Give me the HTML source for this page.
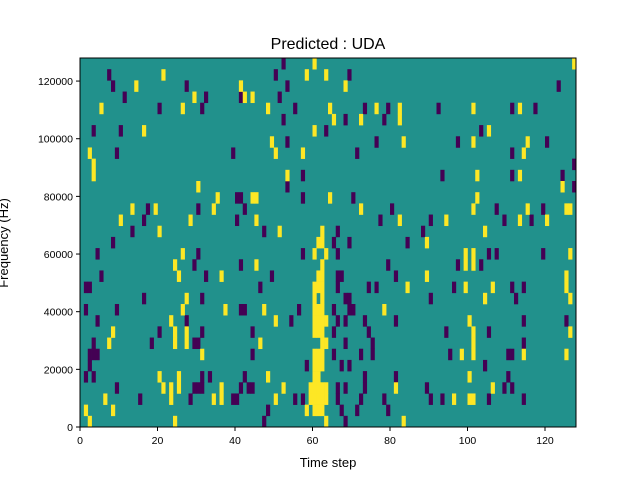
<!DOCTYPE html>
<html><head><meta charset="utf-8"><style>
html,body{margin:0;padding:0;background:#fff;}
svg{display:block;font-family:"Liberation Sans","DejaVu Sans",sans-serif;}
</style></head><body>
<svg id="chart" width="640" height="480" viewBox="0 0 640 480">
<text x="328" y="49" font-size="16" text-anchor="middle">Predicted : UDA</text>
<g id="cells"></g>
<g id="axes"></g>
<text x="328" y="467" font-size="13" text-anchor="middle">Time step</text>
<text transform="translate(8,243) rotate(-90)" font-size="13" text-anchor="middle">Frequency (Hz)</text>
</svg>
<script>
const nTime = 128;
const nBins = 33;
const fMax = 128000;
const xTicks = [0,20,40,60,80,100,120];
const yTicks = [0,20000,40000,60000,80000,100000,120000];
const yTickLabels = ["0","20000","40000","60000","80000","100000","120000"];
const purpleCells = [
[7,31],[8,30],[27,30],[11,29],[20,28],[31,28],[3,26],[10,26],[9,24],[17,19],[30,19],[16,18],[13,17],[8,16],
[4,15],[30,15],[29,14],[5,13],[1,12],[2,12],[16,11],[31,11],[1,10],[9,10],[4,9],[27,9],[20,8],[31,8],[3,7],[18,7],[29,7],[30,7],[2,6],[3,6],[4,6],[2,5],[1,4],[3,4],[31,4],[9,3],[29,3],[30,3],[31,3],[15,2],[28,2],
[52,32],[50,31],[53,30],[32,29],[41,29],[51,29],[55,28],[52,27],[63,26],[53,25],[39,24],[57,22],[53,21],[40,20],[41,20],[57,20],[42,19],[40,18],[47,17],
[57,15],[41,14],[32,13],[49,13],[46,12],[41,10],[42,10],[56,10],[54,9],[44,8],[44,6],[58,5],[33,4],[42,4],[41,3],[43,3],[44,3],[39,2],[40,2],[55,2],[57,2],[48,1],[47,0],
[69,31],[73,28],[79,28],[92,28],[68,27],[78,27],[76,25],[71,24],[93,22],[70,20],[80,19],[77,18],[90,18],[66,17],[88,17],[65,16],[69,16],[84,16],
[66,15],[79,14],[66,13],[67,13],[81,13],[66,12],[74,12],[76,12],[68,11],[69,11],[90,11],[65,10],[69,10],[70,10],[66,9],[68,9],[73,9],[81,9],[65,8],[74,8],[94,8],[68,7],[75,7],[75,6],[65,6],[72,6],[95,6],[67,5],[69,5],[73,4],[73,3],[81,4],[66,3],[66,2],[68,3],[89,3],[72,2],[78,2],[90,2],[93,2],[67,1],[71,1],[79,1],[68,0],
[123,30],[111,28],[117,28],[103,26],[97,25],[120,25],[111,24],[127,23],[111,22],[124,22],[127,21],[107,19],[119,19],[109,18],[116,18],
[105,15],[107,15],[119,15],[97,14],[103,14],[96,12],[111,12],[114,12],[112,11],[114,9],[125,9],[105,8],[114,7],[110,6],[111,6],[104,5],[110,4],[109,3],[111,3],[105,2],[114,2]
];
const yellowCells = [
[21,31],[14,30],[29,29],[5,28],[26,28],[16,26],[2,24],[3,23],[3,22],[30,21],[13,19],[19,19],[10,18],[28,18],[20,17],
[26,15],[24,14],[25,13],[27,11],[26,10],[23,9],[8,8],[24,8],[24,7],[27,8],[27,7],[7,7],[31,6],[20,4],[25,4],[25,3],[21,3],[23,3],[23,2],[6,2],[1,1],[8,1],[2,0],[24,0],
[60,32],[58,31],[63,31],[41,30],[42,29],[44,29],[48,28],[60,26],[49,25],[50,24],[57,24],[53,22],[35,20],[44,20],[45,20],[34,19],[45,18],[51,17],[62,17],[61,16],[62,16],
[60,15],[63,15],[45,14],[62,14],[36,13],[61,13],[62,13],[60,12],[61,12],[62,12],[60,11],[62,11],[37,10],[47,10],[60,10],[61,10],[62,10],[50,9],[60,9],[61,9],[62,9],[63,9],[60,8],[61,8],[62,8],[46,7],[62,7],[63,7],[60,6],[61,6],[62,6],[60,5],[61,5],[62,5],[48,4],[60,4],[61,4],[36,3],[36,2],[52,3],[59,3],[60,3],[61,3],[62,3],[63,3],[34,2],[50,2],[59,2],[60,2],[61,2],[62,2],[63,2],[58,1],[60,1],[61,1],[62,1],[63,0],
[68,30],[64,28],[76,28],[82,28],[82,27],[65,27],[72,27],[83,25],[64,20],[72,19],[82,18],[94,18],[89,16],
[89,13],[84,12],[78,10],[81,3],[83,0],
[127,32],[101,28],[113,28],[105,26],[101,25],[115,25],[114,24],[102,22],[113,22],[124,21],[102,20],[101,19],[115,19],[125,19],[126,19],[113,18],[120,18],[104,17],
[99,15],[99,14],[101,15],[101,14],[126,15],[125,13],[125,12],[99,12],[106,12],[104,11],[126,11],[100,9],[101,8],[101,7],[101,6],[126,8],[98,6],[114,6],[125,6],[100,4],[106,3],[96,2],[100,2],[101,2]
];
const X0=80, X1=576, Y0=427, Y1=58;
const NS="http://www.w3.org/2000/svg";
function xs(t){return X0+(t/nTime)*(X1-X0);}
function ys(f){return Y0-(f/fMax)*(Y0-Y1);}
const binH = fMax/nBins;
function mk(tag,attrs,parent){const e=document.createElementNS(NS,tag);for(const k in attrs)e.setAttribute(k,attrs[k]);parent.appendChild(e);return e;}
const cells=document.getElementById('cells');
const bg=mk('rect',{x:X0,y:Y1,width:X1-X0,height:Y0-Y1,fill:'#21918c'},cells);


function drawCells(list,color,name){
  list.forEach(([t,b])=>{
    const x=xs(t), x2=xs(t+1), y=ys((b+1)*binH), y2=ys(b*binH);
    const r=mk('rect',{x:x,y:y,width:x2-x+0.3,height:y2-y+0.3,fill:color},cells);
    
    
  });
}
drawCells(purpleCells,'#440154','cell-low');
drawCells(yellowCells,'#fde725','cell-high');
const axes=document.getElementById('axes');
const frame=mk('rect',{x:X0,y:Y1,width:X1-X0,height:Y0-Y1,fill:'none',stroke:'#000','stroke-width':1},axes);


xTicks.forEach(t=>{
  const x=xs(t);
  mk('line',{x1:x,y1:Y0,x2:x,y2:Y0+4,stroke:'#000'},axes);
  const tx=mk('text',{x:x,y:Y0+17,'font-size':10.5,'text-anchor':'middle'},axes);
  tx.textContent=String(t);
  
  
});
yTicks.forEach((f,i)=>{
  const y=ys(f);
  mk('line',{x1:X0-4,y1:y,x2:X0,y2:y,stroke:'#000'},axes);
  const tx=mk('text',{x:X0-7,y:y+4,'font-size':10.5,'text-anchor':'end'},axes);
  tx.textContent=yTickLabels[i];
  
  
});
</script>
</body></html>
